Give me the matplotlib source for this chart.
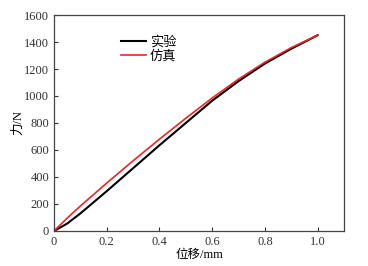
import matplotlib
matplotlib.use("Agg")
import matplotlib.pyplot as plt

plt.rcParams['font.family'] = ['Liberation Serif', 'Noto Sans CJK SC']
plt.rcParams['axes.unicode_minus'] = False

x_exp = [0, 0.05, 0.1, 0.2, 0.3, 0.4, 0.5, 0.6, 0.7, 0.8, 0.9, 1.0]
y_exp = [0, 55, 130, 295, 465, 635, 800, 965, 1110, 1240, 1350, 1450]
x_sim = [0, 0.05, 0.1, 0.2, 0.3, 0.4, 0.5, 0.6, 0.7, 0.8, 0.9, 1.0]
y_sim = [0, 95, 185, 355, 520, 680, 835, 985, 1125, 1250, 1358, 1450]

xticks = [0, 0.2, 0.4, 0.6, 0.8, 1.0]
xticklabels = ['0', '0.2', '0.4', '0.6', '0.8', '1.0']
yticks = [0, 200, 400, 600, 800, 1000, 1200, 1400, 1600]

fig = plt.figure(figsize=(3.68, 2.66), dpi=100)
ax = fig.add_axes([0.1467, 0.1316, 0.788, 0.812])
ax.plot(x_exp, y_exp, color='black', lw=1.5, label='实验')
ax.plot(x_sim, y_sim, color='#e8262b', lw=1.2, label='仿真')
ax.set_xlim(0, 1.1)
ax.set_ylim(0, 1600)
ax.set_xticks(xticks)
ax.set_xticklabels(xticklabels)
ax.set_yticks(yticks)
ax.tick_params(direction='in', length=3, labelsize=9, colors='#333333', width=0.8)
for s in ax.spines.values():
    s.set_color('#444444')
    s.set_linewidth(0.9)
ax.set_xlabel('位移/mm', fontsize=9, labelpad=1)
ax.set_ylabel('力/N', fontsize=9, labelpad=0)
ax.legend(loc='upper left', bbox_to_anchor=(0.19, 0.96), frameon=False,
          fontsize=9.5, handlelength=1.9, handletextpad=0.3, labelspacing=0.15)
fig.savefig('out.png', dpi=100)
